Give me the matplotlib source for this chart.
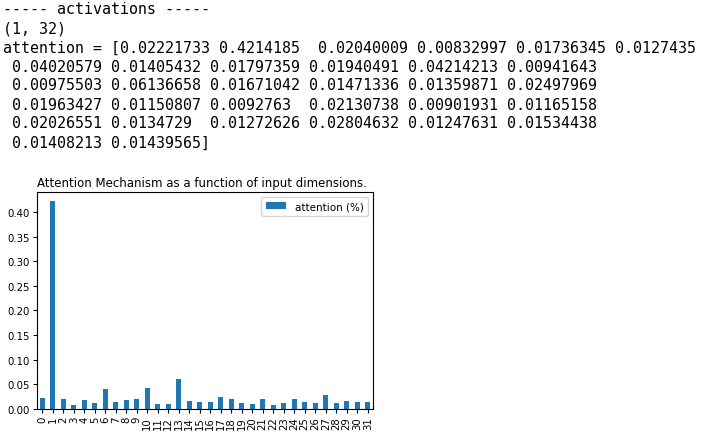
import matplotlib
matplotlib.use("Agg")
import matplotlib.pyplot as plt
import numpy as np

attention = [0.02221733, 0.4214185, 0.02040009, 0.00832997, 0.01736345, 0.0127435,
             0.04020579, 0.01405432, 0.01797359, 0.01940491, 0.04214213, 0.00941643,
             0.00975503, 0.06136658, 0.01671042, 0.01471336, 0.01359871, 0.02497969,
             0.01963427, 0.01150807, 0.0092763, 0.02130738, 0.00901931, 0.01165158,
             0.02026551, 0.0134729, 0.01272626, 0.02804632, 0.01247631, 0.01534438,
             0.01408213, 0.01439565]
dims = list(range(len(attention)))

out_lines = [
    "----- activations -----",
    "(1, 32)",
    "attention = [0.02221733 0.4214185  0.02040009 0.00832997 0.01736345 0.0127435",
    " 0.04020579 0.01405432 0.01797359 0.01940491 0.04214213 0.00941643",
    " 0.00975503 0.06136658 0.01671042 0.01471336 0.01359871 0.02497969",
    " 0.01963427 0.01150807 0.0092763  0.02130738 0.00901931 0.01165158",
    " 0.02026551 0.0134729  0.01272626 0.02804632 0.01247631 0.01534438",
    " 0.01408213 0.01439565]",
]

W, H = 711, 439
fig = plt.figure(figsize=(W / 100, H / 100), dpi=100)

for i, line in enumerate(out_lines):
    y = 10 + i * 19
    fig.text(3 / W, 1 - y / H, line, family="DejaVu Sans Mono", fontsize=10.8,
             va="center", ha="left")

ax = fig.add_axes([37 / W, 1 - 410 / H, 336 / W, 217 / H])
ax.bar(dims, attention, width=0.5, color="#1f77b4", label="attention (%)")
ax.set_xlim(-0.5, 31.5)
ax.set_ylim(0, 0.4406)
ax.set_xticks(dims)
ax.set_xticklabels([str(d) for d in dims], rotation=90, fontsize=7.3)
ax.set_yticks(np.arange(0, 0.41, 0.05))
ax.set_yticklabels([f"{v:.2f}" for v in np.arange(0, 0.41, 0.05)], fontsize=7.3)
ax.tick_params(length=3, pad=2)
ax.set_title("Attention Mechanism as a function of input dimensions.",
             fontsize=8.5, loc="left", pad=4)
ax.legend(fontsize=7.5, loc="upper right")

fig.savefig("out.png", dpi=100)
